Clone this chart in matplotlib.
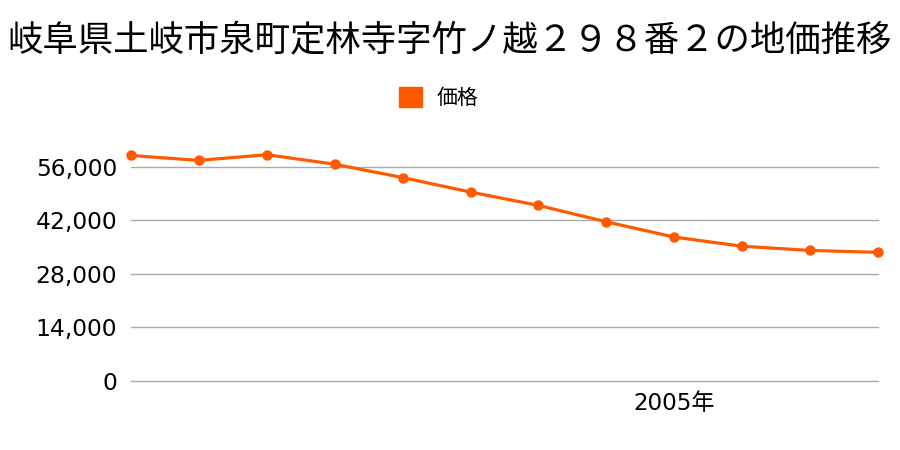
import matplotlib
matplotlib.use("Agg")
import matplotlib.pyplot as plt
from matplotlib.patches import Patch
from matplotlib.ticker import FuncFormatter

plt.rcParams['font.family'] = ['DejaVu Sans', 'Noto Sans CJK JP']

TITLE = "岐阜県土岐市泉町定林寺字竹ノ越２９８番２の地価推移"
SERIES = "価格"
years = [1997, 1998, 1999, 2000, 2001, 2002, 2003, 2004, 2005, 2006, 2007, 2008]
prices = [59000, 57700, 59200, 56700, 53200, 49400, 45900, 41600, 37600, 35200, 34100, 33600]
yticks = [0, 14000, 28000, 42000, 56000]
xtick_years = [2005]

COLOR = '#ff5a00'

fig = plt.figure(figsize=(9, 4.5), dpi=100)
ax = fig.add_axes([131 / 900, 69.5 / 450, 747 / 900, 267 / 450])

ax.plot(years, prices, color=COLOR, lw=2.3, marker='o', ms=6.5,
        clip_on=False, zorder=3)

ax.set_xlim(years[0], years[-1])
ax.set_ylim(0, 70000)
ax.set_yticks(yticks)
ax.yaxis.set_major_formatter(FuncFormatter(lambda v, p: f"{int(v):,}"))
ax.set_xticks(xtick_years)
ax.set_xticklabels([f"{y}年" for y in xtick_years])
ax.grid(axis='y', color='#aaaaaa', lw=1)
for gl in ax.get_ygridlines():
    gl.set_clip_on(False)
ax.set_axisbelow(True)
for s in ax.spines.values():
    s.set_visible(False)
ax.tick_params(axis='both', length=0)
ax.tick_params(axis='y', pad=10, labelsize=16.8)
ax.tick_params(axis='x', pad=8, labelsize=16.6)

fig.text(0.5, 1 - 40 / 450, TITLE, ha='center', va='center', fontsize=25.5,
         family=['Noto Sans CJK JP', 'DejaVu Sans'])

fig.legend(handles=[Patch(color=COLOR, label=SERIES)], loc='center',
           bbox_to_anchor=(0.487, 1 - 98 / 450), frameon=False,
           handlelength=1.1, handleheight=1.1, handletextpad=0.7,
           prop={'family': ['Noto Sans CJK JP'], 'size': 15})

fig.savefig("out.png", dpi=100)
